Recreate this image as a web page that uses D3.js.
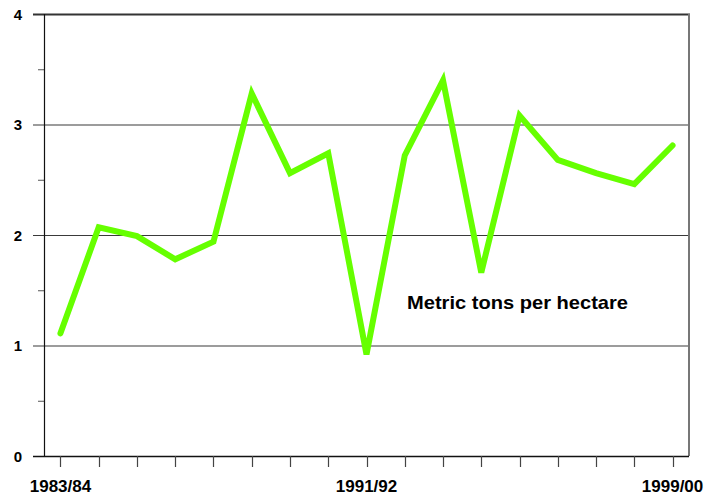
<!DOCTYPE html>
<html>
<head>
<meta charset="utf-8">
<script src="https://cdn.jsdelivr.net/npm/d3@7"></script>
<style>
  html, body { margin: 0; padding: 0; background: #fff; }
  svg { display: block; }
  text { font-family: "Liberation Sans", Arial, sans-serif; font-weight: bold; fill: #000; }
</style>
</head>
<body>
<svg id="chart" width="707" height="496"></svg>
<script>
const categories = ["1983/84","1984/85","1985/86","1986/87","1987/88","1988/89","1989/90","1990/91",
                    "1991/92","1992/93","1993/94","1994/95","1995/96","1996/97","1997/98","1998/99","1999/00"];
const yieldValues = [1.11, 2.07, 1.99, 1.78, 1.94, 3.28, 2.56, 2.74, 0.92, 2.72, 3.40, 1.66, 3.08, 2.68, 2.56, 2.46, 2.81];
const xTickLabels = ["1983/84", "1991/92", "1999/00"];
const yMajorTicks = [0, 1, 2, 3, 4];
const yMinorTicks = [0.5, 1.5, 2.5, 3.5];
const seriesLabel = "Metric tons per hectare";

const svg = d3.select("#chart");
const pLeft = 44, pRight = 689, pTop = 14, pBottom = 456;

const x = d3.scalePoint().domain(categories).range([pLeft, pRight]).padding(0.43);
const y = d3.scaleLinear().domain([0, 4]).range([pBottom, pTop]);

// gridlines (including major tick extension)
svg.append("g").selectAll("line").data(yMajorTicks.filter(d => d > 0 && d < 4)).join("line")
  .attr("x1", 33).attr("x2", pRight).attr("y1", d => y(d) + 0.5).attr("y2", d => y(d) + 0.5)
  .attr("stroke", "#3a3a3a").attr("stroke-width", 1.2);

// top border
svg.append("line").attr("x1", 33).attr("x2", pRight + 1).attr("y1", y(4) + 0.5).attr("y2", y(4) + 0.5)
  .attr("stroke", "#333").attr("stroke-width", 2);
// right border
svg.append("line").attr("x1", pRight).attr("x2", pRight).attr("y1", pTop).attr("y2", pBottom)
  .attr("stroke", "#777").attr("stroke-width", 2);

// minor y ticks
svg.append("g").selectAll("line").data(yMinorTicks).join("line")
  .attr("x1", 38).attr("x2", pLeft).attr("y1", d => y(d) + 0.5).attr("y2", d => y(d) + 0.5)
  .attr("stroke", "#555").attr("stroke-width", 1);

// y axis line
svg.append("line").attr("x1", pLeft + 0.5).attr("x2", pLeft + 0.5).attr("y1", pTop).attr("y2", pBottom)
  .attr("stroke", "#111").attr("stroke-width", 1.2);

// x axis line
svg.append("line").attr("x1", 33).attr("x2", pRight).attr("y1", pBottom + 0.5).attr("y2", pBottom + 0.5)
  .attr("stroke", "#111").attr("stroke-width", 1.3);

// x ticks
svg.append("g").selectAll("line").data(categories).join("line")
  .attr("x1", d => Math.round(x(d)) + 0.5).attr("x2", d => Math.round(x(d)) + 0.5)
  .attr("y1", pBottom).attr("y2", pBottom + 11)
  .attr("stroke", "#444").attr("stroke-width", 1.2);

// y labels
svg.append("g").selectAll("text").data(yMajorTicks).join("text")
  .attr("x", 22).attr("y", d => y(d) + 5.5)
  .attr("text-anchor", "end").attr("font-size", 15)
  .text(d => d);

// x labels
svg.append("g").selectAll("text").data(xTickLabels).join("text")
  .attr("x", d => x(d)).attr("y", 492)
  .attr("text-anchor", "middle").attr("font-size", 17)
  .text(d => d);

// line
const line = d3.line().x((d, i) => x(categories[i])).y(d => y(d));
svg.append("path").datum(yieldValues)
  .attr("d", line)
  .attr("fill", "none")
  .attr("stroke", "#66ff00")
  .attr("stroke-width", 6)
  .attr("stroke-linejoin", "miter")
  .attr("stroke-linecap", "round");

// series label
svg.append("text").attr("x", 407).attr("y", 308.5)
  .attr("font-size", 19)
  .attr("textLength", 221).attr("lengthAdjust", "spacingAndGlyphs")
  .text(seriesLabel);
</script>
</body>
</html>
